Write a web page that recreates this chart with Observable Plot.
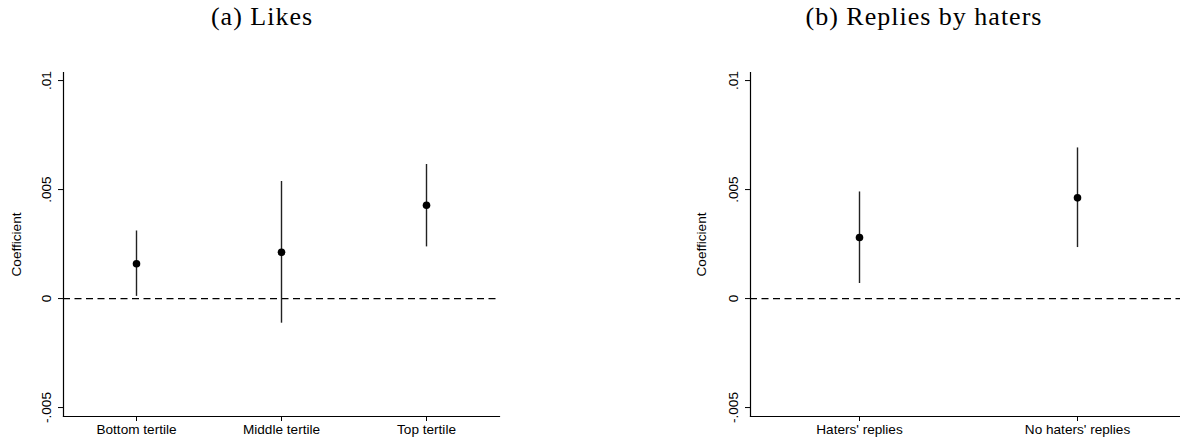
<!DOCTYPE html>
<html>
<head>
<meta charset="utf-8">
<script src="https://cdn.jsdelivr.net/npm/d3@7"></script>
<script src="https://cdn.jsdelivr.net/npm/@observablehq/plot@0.6"></script>
<style>
  html, body { margin: 0; padding: 0; background: white; overflow: hidden; }
  #wrap { position: relative; width: 1180px; height: 442px; overflow: hidden; background: white; }
  .title { position: absolute; top: 0; font-family: "Liberation Serif", "Times New Roman", serif; font-size: 26px; letter-spacing: 1px; color: black; white-space: nowrap; transform: translateX(-50%); line-height: 34px; }
  .panel { position: absolute; top: 40px; }
  .panel svg { max-width: none !important; }
</style>
</head>
<body>
<div id="wrap">
  <div class="title" id="t1" style="left:262px;">(a) Likes</div>
  <div class="title" id="t2" style="left:924px;">(b) Replies by haters</div>
  <div class="panel" id="p1" style="left:0px; width:590px;"></div>
  <div class="panel" id="p2" style="left:590px; width:596px;"></div>
</div>
<script>
// Panel (a): Likes
const likesCats = ["Bottom tertile", "Middle tertile", "Top tertile"];
const likesCoef = [0.0016, 0.00212, 0.00428];
const likesLo   = [0.0001, -0.00113, 0.00237];
const likesHi   = [0.0031, 0.00537, 0.00615];

// Panel (b): Replies by haters
const hatersCats = ["Haters' replies", "No haters' replies"];
const hatersCoef = [0.0028, 0.00462];
const hatersLo   = [0.00069, 0.00234];
const hatersHi   = [0.00489, 0.00691];

// Y axis ticks
const yTickValues = [-0.005, 0, 0.005, 0.01];
const yTickLabels = ["-.005", "0", ".005", ".01"];
const yLabel = "Coefficient";

function makePanel(cats, coef, lo, hi, cfg) {
  const data = cats.map((c, i) => ({cat: c, coef: coef[i], lo: lo[i], hi: hi[i]}));
  return Plot.plot({
    width: cfg.width,
    height: 402,
    marginTop: 32,
    marginBottom: 26,
    marginLeft: cfg.marginLeft,
    marginRight: cfg.marginRight,
    style: {fontFamily: "'Liberation Sans', Arial, sans-serif", fontSize: "13.6px", color: "black", background: "white", overflow: "visible", maxWidth: "none"},
    x: {type: "point", domain: cats, padding: 0.5},
    y: {domain: [-0.00541, 0.01037]},
    marks: [
      Plot.ruleY([0], {stroke: "black", strokeWidth: 1.2, strokeDasharray: "7,4.5"}),
      Plot.ruleX(data, {x: "cat", y1: "lo", y2: "hi", stroke: "#222", strokeWidth: 1.4}),
      Plot.dot(data, {x: "cat", y: "coef", r: 3.8, fill: "black", stroke: "none"}),
      Plot.frame({anchor: "left", stroke: "black", strokeWidth: 1.2}),
      Plot.frame({anchor: "bottom", stroke: "black", strokeWidth: 1.2}),
      Plot.axisY({
        ticks: yTickValues,
        tickFormat: d => yTickLabels[yTickValues.indexOf(d)],
        tickSize: 5,
        tickRotate: -90,
        tickPadding: 8,
        label: yLabel,
        labelAnchor: "center",
        labelArrow: "none",
        labelOffset: cfg.labelOffset
      }),
      Plot.axisX({tickSize: 5, tickPadding: 3, label: null})
    ]
  });
}

document.getElementById("p1").append(
  makePanel(likesCats, likesCoef, likesLo, likesHi, {width: 590, marginLeft: 63, marginRight: 91, labelOffset: 52})
);
document.getElementById("p2").append(
  makePanel(hatersCats, hatersCoef, hatersLo, hatersHi, {width: 596, marginLeft: 160, marginRight: 0, labelOffset: 54})
);
</script>
</body>
</html>
